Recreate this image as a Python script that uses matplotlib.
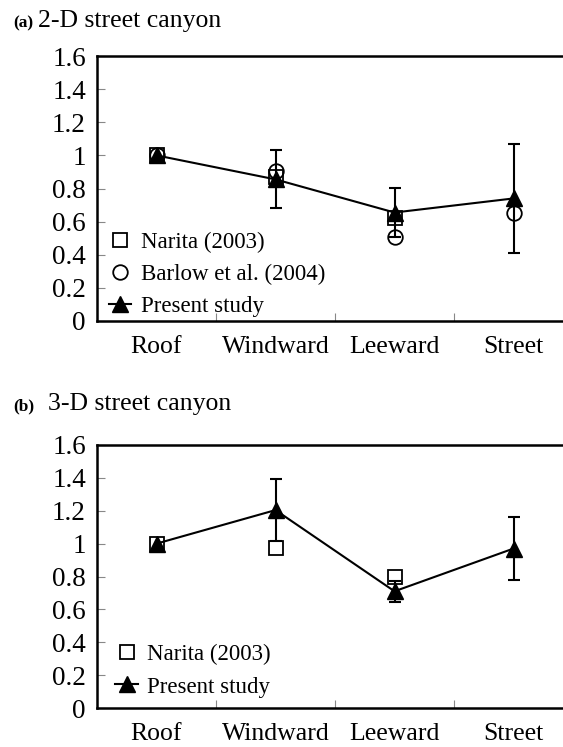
import numpy as np
import matplotlib.pyplot as plt

plt.rcParams['font.family'] = ['Liberation Serif', 'DejaVu Serif']

# categories along the canyon
sites = ['Roof', 'Windward', 'Leeward', 'Street']

# (a) 2-D street canyon
narita_2d = [1.0, 0.87, 0.62, np.nan]
barlow_2d = [1.0, 0.905, 0.51, 0.655]
present_2d = [1.0, 0.855, 0.655, 0.74]
present_2d_err = [0.0, 0.175, 0.15, 0.33]

# (b) 3-D street canyon
narita_3d = [1.0, 0.975, 0.80, np.nan]
present_3d = [1.0, 1.204, 0.71, 0.97]
present_3d_err = [0.0, 0.19, 0.063, 0.19]

yticks = [0, 0.2, 0.4, 0.6, 0.8, 1.0, 1.2, 1.4, 1.6]

W, H = 563, 747
fig = plt.figure(figsize=(W / 100, H / 100), dpi=100)


def box(l, t, r, b):
    # pixel box -> figure fraction
    return [l / W, 1 - b / H, (r - l) / W, (b - t) / H]


def panel(ax, series, pres, err, leg_anchor):
    x = np.arange(len(sites))
    pres = np.array(pres)
    err = np.array(err)
    for vals, mk, lab in series:
        ax.plot(x, vals, linestyle='none', marker=mk, ms=10.5, mfc='none',
                mec='black', mew=1.3, label=lab, zorder=3)
    ax.plot(x, pres, color='black', lw=1.5, marker='^', ms=12, mfc='black',
            mec='black', label='Present study', zorder=4)
    has = err > 0
    ax.errorbar(x[has], pres[has], yerr=err[has], fmt='none', ecolor='black',
                elinewidth=1.5, capsize=4, capthick=1.5, zorder=2)

    ax.set_xlim(-0.5, 3.5)
    ax.set_ylim(0, 1.6)
    ax.set_yticks(yticks)
    ax.set_yticklabels(['%g' % v for v in yticks])
    ax.set_xticks([0.5, 1.5, 2.5])
    ax.set_xticklabels([])
    ax.set_xticks(x, minor=True)
    ax.set_xticklabels(sites, minor=True)
    ax.tick_params(axis='both', which='major', direction='in', length=6,
                   width=0.8, color='#888888', labelsize=19.5)
    ax.tick_params(axis='y', pad=8)
    ax.tick_params(axis='x', which='minor', length=0, pad=11, labelsize=18.5)
    for s in ax.spines.values():
        s.set_linewidth(1.8)
    ax.legend(loc='lower left', bbox_to_anchor=leg_anchor, frameon=False,
              fontsize=16.5, handlelength=1.0, handletextpad=0.4,
              labelspacing=0.48, borderaxespad=0)


ax1 = fig.add_axes(box(97, 56, 573, 321))
panel(ax1, [(narita_2d, 's', 'Narita (2003)'),
            (barlow_2d, 'o', 'Barlow et al. (2004)')],
      present_2d, present_2d_err, (0.005, -0.02))

ax2 = fig.add_axes(box(97, 445, 573, 708))
panel(ax2, [(narita_3d, 's', 'Narita (2003)')],
      present_3d, present_3d_err, (0.019, 0.005))

# panel headings
fig.text(13 / W, 1 - 27 / H, '(a)', fontsize=12.5, fontweight='bold', va='baseline')
fig.text(38 / W, 1 - 27 / H, '2-D street canyon', fontsize=18.5, va='baseline')
fig.text(13 / W, 1 - 410 / H, '(b)', fontsize=12.5, fontweight='bold', va='baseline')
fig.text(48 / W, 1 - 410 / H, '3-D street canyon', fontsize=18.5, va='baseline')

fig.savefig('out.png', dpi=100)
